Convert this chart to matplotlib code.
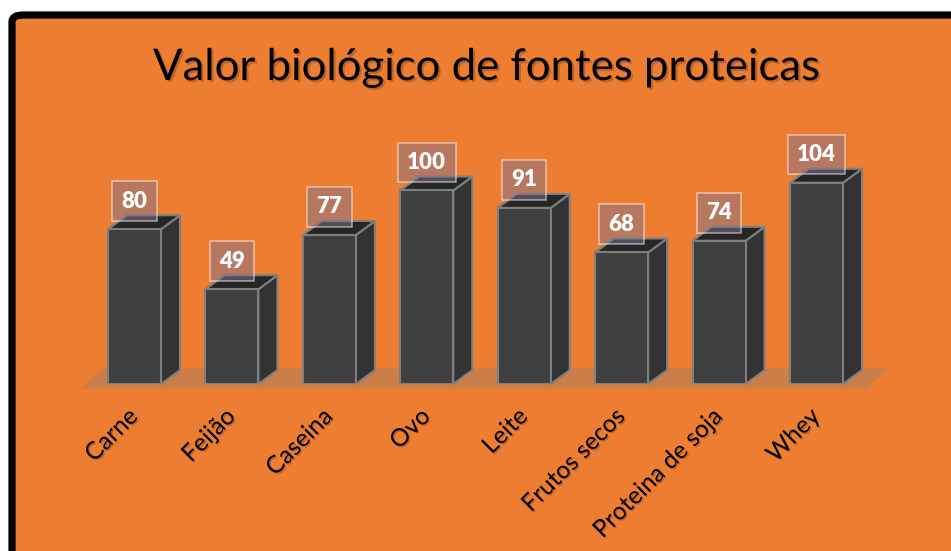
import matplotlib.pyplot as plt
from matplotlib.patches import Polygon, FancyBboxPatch
import matplotlib.patheffects as pe

# Data
categories = ["Carne", "Feijão", "Caseina", "Ovo", "Leite", "Frutos secos", "Proteina de soja", "Whey"]
values = [80, 49, 77, 100, 91, 68, 74, 104]
title = "Valor biológico de fontes proteicas"

# Colours
orange = "#ED7D31"
front_c = "#404040"
side_c = "#333333"
top_c = "#262626"
edge_c = "#7F7F7F"

plt.rcParams['font.family'] = ['Lato', 'DejaVu Sans']

fig = plt.figure(figsize=(9.51, 5.51), dpi=100)
fig.patch.set_facecolor("white")

# orange panel with black frame (only top and left edges visible)
frame = FancyBboxPatch((12 / 951, -0.05), 1.1, 1 - 15 / 551 + 0.05,
                       boxstyle="round,pad=0,rounding_size=0.012",
                       transform=fig.transFigure, facecolor=orange,
                       edgecolor="black", linewidth=5.2, zorder=-10)
fig.patches.append(frame)

# axes: x from -0.5..7.5, y=0 at pixel 384
ax = fig.add_axes([85.8 / 951, 1 - 384 / 551, 779.4 / 951, 251.6 / 551])
ax.set_xlim(-0.5, 7.5)
ax.set_ylim(0, 130)
ax.patch.set_alpha(0)
for s in ax.spines.values():
    s.set_visible(False)
ax.set_yticks([])
ax.tick_params(axis='x', length=0, pad=21)

bw = 0.544          # bar width in category units
dx, dy = 0.195, 7.2  # bar depth offset (data units)
fdx, fdy = 0.225, 10.3  # floor depth

# floor
n = len(categories)
floor = Polygon([(-0.55, -2.3), (n - 0.5 + 0.02, -2.3),
                 (n - 0.5 + 0.02 + fdx, -2.3 + fdy), (-0.55 + fdx, -2.3 + fdy)],
                closed=True, facecolor="#A0806A", alpha=0.45,
                edgecolor="none", zorder=1, clip_on=False)
ax.add_patch(floor)

x = list(range(n))
bars = ax.bar(x, values, width=bw, color=front_c, edgecolor=edge_c,
              linewidth=1.5, zorder=3)

for i, v in enumerate(values):
    l, r = i - bw / 2, i + bw / 2
    side = Polygon([(r, 0), (r + dx, dy), (r + dx, v + dy), (r, v)],
                   closed=True, facecolor=side_c, edgecolor=edge_c,
                   linewidth=1.5, zorder=2, clip_on=False)
    top = Polygon([(l, v), (r, v), (r + dx, v + dy), (l + dx, v + dy)],
                  closed=True, facecolor=top_c, edgecolor=edge_c,
                  linewidth=1.5, zorder=2, clip_on=False)
    ax.add_patch(side)
    ax.add_patch(top)
    ax.text(i, v + 14.5, str(v), ha="center", va="center", color="white",
            fontsize=16, fontweight="heavy", zorder=5, clip_on=False,
            bbox=dict(boxstyle="square,pad=0.42", facecolor="#857590",
                      alpha=0.5, edgecolor="white", linewidth=1.2))

ax.set_xticks(x)
ax.set_xticklabels(categories, rotation=45, ha="right", va="center",
                   rotation_mode="anchor", fontsize=17.5, color="black")
for t in ax.get_xticklabels():
    t.set_path_effects([pe.withSimplePatchShadow(offset=(1, -1), alpha=0.2)])

fig.text(487 / 951, 1 - 80 / 551, title, ha="center", va="baseline",
         fontsize=31.5, color="black",
         path_effects=[pe.withSimplePatchShadow(offset=(1.5, -1.5), alpha=0.2)])

fig.savefig("out.png", dpi=100, facecolor=fig.get_facecolor())
